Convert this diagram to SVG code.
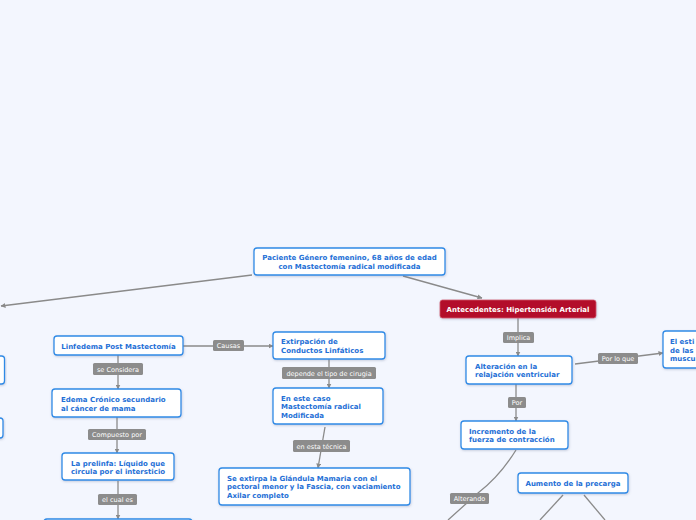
<svg xmlns="http://www.w3.org/2000/svg" width="696" height="520" viewBox="0 0 696 520">
<defs>
<marker id="ah" viewBox="0 0 10 10" refX="9" refY="5" markerWidth="5" markerHeight="5" orient="auto" markerUnits="userSpaceOnUse">
<path d="M0,0 L10,5 L0,10 z" fill="#8a8a8a"/>
</marker>
<filter id="sh" x="-10%" y="-20%" width="120%" height="150%">
<feDropShadow dx="0.5" dy="1" stdDeviation="0.8" flood-color="#6a7a9a" flood-opacity="0.35"/>
</filter>
<style>
.bg{fill:#f3f6fe}
.n{fill:#ffffff;stroke:#2f8ae6;stroke-width:1.3;filter:url(#sh)}
.r{fill:#b30d2b;stroke:#d0566a;stroke-width:0.8;filter:url(#sh)}
.t{font-family:"DejaVu Sans",Verdana,sans-serif;font-size:7px;font-weight:bold;fill:#1e6fd6}
.tw{font-family:"DejaVu Sans",Verdana,sans-serif;font-size:7px;font-weight:bold;fill:#ffffff}
.c{text-anchor:middle}
.e{fill:none;stroke:#8a8a8a;stroke-width:1.3}
.lb{fill:#8c8c8c}
.lt{font-family:"DejaVu Sans",Verdana,sans-serif;font-size:6.5px;fill:#ffffff;text-anchor:middle}
</style>
</defs>
<rect class="bg" x="0" y="0" width="696" height="520"/>
<g id="connectors">
<path class="e" d="M252,275 L1,306" marker-end="url(#ah)"/>
<path class="e" d="M403,276 L482,298" marker-end="url(#ah)"/>
<path class="e" d="M518,318 L518,356" marker-end="url(#ah)"/>
<path class="e" d="M575,364 L663,353" marker-end="url(#ah)"/>
<path class="e" d="M516,384 L516,421" marker-end="url(#ah)"/>
<path class="e" d="M516,450 Q500,476 478,493 L448,520"/>
<path class="e" d="M563,495 L540,520"/>
<path class="e" d="M584,495 L605,520"/>
<path class="e" d="M183,346 L273,346" marker-end="url(#ah)"/>
<path class="e" d="M118,355 L118,389" marker-end="url(#ah)"/>
<path class="e" d="M117,417 L117,453" marker-end="url(#ah)"/>
<path class="e" d="M118,481 L118,519" marker-end="url(#ah)"/>
<path class="e" d="M329,359 L329,388" marker-end="url(#ah)"/>
<path class="e" d="M325,427 L318,468" marker-end="url(#ah)"/>
<rect class="lb" x="503" y="332" width="31" height="11" rx="1.5"/>
<text class="lt" x="518.5" y="340">Implica</text>
<rect class="lb" x="598" y="353" width="40" height="11" rx="1.5"/>
<text class="lt" x="618" y="361">Por lo que</text>
<rect class="lb" x="508" y="397" width="18" height="11" rx="1.5"/>
<text class="lt" x="517" y="405">Por</text>
<rect class="lb" x="450" y="493" width="39" height="11" rx="1.5"/>
<text class="lt" x="469.5" y="501">Alterando</text>
<rect class="lb" x="213" y="340" width="31" height="11" rx="1.5"/>
<text class="lt" x="228.5" y="348">Causas</text>
<rect class="lb" x="93" y="363" width="50" height="12" rx="1.5"/>
<text class="lt" x="118" y="371.5">se Considera</text>
<rect class="lb" x="88" y="429" width="58" height="11" rx="1.5"/>
<text class="lt" x="117" y="437">Compuesto por</text>
<rect class="lb" x="98" y="494" width="39" height="11" rx="1.5"/>
<text class="lt" x="117.5" y="502">el cual es</text>
<rect class="lb" x="282" y="367" width="94" height="12" rx="1.5"/>
<text class="lt" x="329" y="375.5">depende el tipo de cirugia</text>
<rect class="lb" x="293" y="440" width="57" height="12" rx="1.5"/>
<text class="lt" x="321.5" y="448.5">en esta técnica</text>
</g>
<g id="root">
<rect class="n" x="254" y="248" width="191" height="27" rx="3"/>
<text class="t c" x="349.5" y="259.5">Paciente Género femenino, 68 años de edad</text>
<text class="t c" x="349.5" y="268.5">con Mastectomía radical modificada</text>
</g>
<g id="antecedentes">
<rect class="r" x="440" y="300" width="156" height="18" rx="2.5"/>
<text class="tw c" x="518" y="311.5">Antecedentes: Hipertensión Arterial</text>
</g>
<g id="alteracion">
<rect class="n" x="466" y="356" width="106" height="28" rx="3"/>
<text class="t" x="475" y="368.5">Alteración en la</text>
<text class="t" x="475" y="377">relajación ventricular</text>
</g>
<g id="estimulo">
<rect class="n" x="663" y="331" width="40" height="37" rx="3"/>
<text class="t" x="670" y="344">El esti</text>
<text class="t" x="670" y="352.5">de las</text>
<text class="t" x="670" y="361">muscu</text>
</g>
<g id="incremento">
<rect class="n" x="461" y="421" width="107" height="28" rx="3"/>
<text class="t" x="469" y="433.5">Incremento de la</text>
<text class="t" x="469" y="442">fuerza de contracción</text>
</g>
<g id="precarga">
<rect class="n" x="518" y="473" width="110" height="20" rx="3"/>
<text class="t c" x="573" y="486">Aumento de la precarga</text>
</g>
<g id="linfedema">
<rect class="n" x="54" y="336" width="129" height="19" rx="3"/>
<text class="t c" x="118.5" y="348.5">Linfedema Post Mastectomía</text>
</g>
<g id="edema">
<rect class="n" x="52" y="389" width="129" height="28" rx="3"/>
<text class="t" x="61" y="402">Edema Crónico secundario</text>
<text class="t" x="61" y="410.5">al cáncer de mama</text>
</g>
<g id="prelinfa">
<rect class="n" x="62" y="453" width="112" height="27" rx="3"/>
<text class="t c" x="118" y="465.5">La prelinfa: Líquido que</text>
<text class="t c" x="118" y="474">circula por el intersticio</text>
</g>
<g id="bottomleft">
<rect class="n" x="44" y="519" width="148" height="20" rx="3"/>
</g>
<g id="extirpacion">
<rect class="n" x="273" y="332" width="112" height="27" rx="3"/>
<text class="t" x="281" y="344">Extirpación de</text>
<text class="t" x="281" y="352.5">Conductos Linfáticos</text>
</g>
<g id="encaso">
<rect class="n" x="273" y="388" width="110" height="36" rx="3"/>
<text class="t" x="281" y="400.5">En este caso</text>
<text class="t" x="281" y="409">Mastectomía radical</text>
<text class="t" x="281" y="417.5">Modificada</text>
</g>
<g id="seextirpa">
<rect class="n" x="219" y="468" width="191" height="37" rx="3"/>
<text class="t" x="227" y="480.5">Se extirpa la Glándula Mamaria con el</text>
<text class="t" x="227" y="489">pectoral menor y la Fascia, con vaciamiento</text>
<text class="t" x="227" y="497.5">Axilar completo</text>
</g>
<g id="left1">
<rect class="n" x="-20" y="356" width="24.5" height="28" rx="3"/>
</g>
<g id="left2">
<rect class="n" x="-20" y="418" width="23" height="20" rx="3"/>
</g>
</svg>
